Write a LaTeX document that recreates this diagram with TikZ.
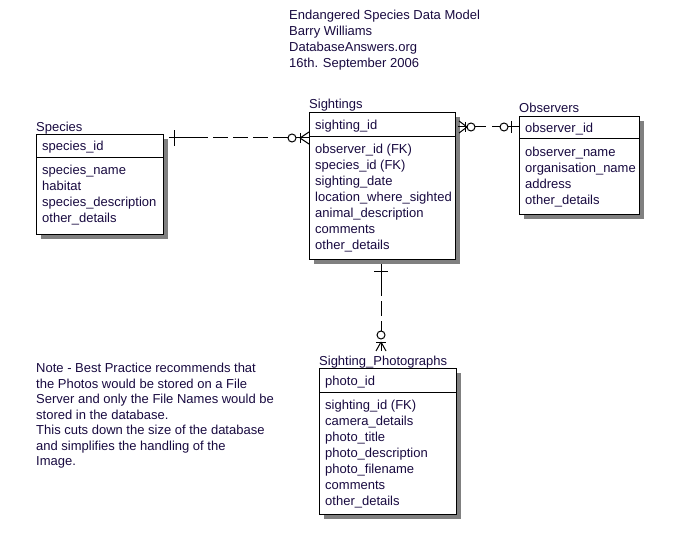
\documentclass[tikz,border=0pt]{standalone}
\usepackage{fontspec}
\setmainfont{Liberation Sans}
\usetikzlibrary{shadows,calc}
\definecolor{txt}{RGB}{24,10,64}
\definecolor{shd}{RGB}{128,128,128}
\tikzset{
  ebox/.style={draw=black, line width=1pt, fill=white, anchor=north west, inner sep=0pt,
    drop shadow={shadow xshift=4.5pt, shadow yshift=-4.5pt, fill=shd, opacity=1}},
  lbl/.style={anchor=base west, inner sep=0pt, text=txt},
  rel/.style={line width=1pt, black},
  reldash/.style={line width=1pt, black, dash pattern=on 15pt off 5pt},
}
\begin{document}
\begin{tikzpicture}[x=1pt, y=-1pt, font=\fontsize{13}{16}\selectfont]
\useasboundingbox (0,0) rectangle (684,545);

% header
\node[lbl] (h1) at (289,19.5) {Endangered Species Data Model};
\node[lbl] (h2) at (289,35.5) {Barry Williams};
\node[lbl] (h3) at (289,51.5) {DatabaseAnswers.org};
\node[lbl] (h4) at (289,67.5) {16th. September 2006};

% Species
\node[ebox, minimum width=127pt, minimum height=100pt] (species) at (36,134) {};
\draw[line width=1pt] (36,158) -- (163,158);
\node[lbl] (speciest) at (36,131.5) {Species};
\node[lbl] at (42,150.5) {species\_id};
\node[lbl] at (42,174.5) {species\_name};
\node[lbl] at (42,190.5) {habitat};
\node[lbl] at (42,206.5) {species\_description};
\node[lbl] at (42,222.5) {other\_details};

% Sightings
\node[ebox, minimum width=146pt, minimum height=147pt] (sightings) at (309,112) {};
\draw[line width=1pt] (309,137) -- (455,137);
\node[lbl] (sightingst) at (309,108.5) {Sightings};
\node[lbl] at (315,129.5) {sighting\_id};
\node[lbl] at (315,153.5) {observer\_id (FK)};
\node[lbl] at (315,169.5) {species\_id (FK)};
\node[lbl] at (315,185.5) {sighting\_date};
\node[lbl] at (315,201.5) {location\_where\_sighted};
\node[lbl] at (315,217.5) {animal\_description};
\node[lbl] at (315,233.5) {comments};
\node[lbl] at (315,249.5) {other\_details};

% Observers
\node[ebox, minimum width=120pt, minimum height=98pt] (observers) at (519,116) {};
\draw[line width=1pt] (519,139) -- (639,139);
\node[lbl] (observerst) at (519,112.5) {Observers};
\node[lbl] at (525,132.5) {observer\_id};
\node[lbl] at (525,156.5) {observer\_name};
\node[lbl] at (525,172.5) {organisation\_name};
\node[lbl] at (525,188.5) {address};
\node[lbl] at (525,204.5) {other\_details};

% Sighting_Photographs
\node[ebox, minimum width=137pt, minimum height=146pt] (photos) at (319,368) {};
\draw[line width=1pt] (319,392) -- (456,392);
\node[lbl] (photost) at (319,365.5) {Sighting\_Photographs};
\node[lbl] at (325,385.5) {photo\_id};
\node[lbl] at (325,409.5) {sighting\_id (FK)};
\node[lbl] at (325,425.5) {camera\_details};
\node[lbl] at (325,441.5) {photo\_title};
\node[lbl] at (325,457.5) {photo\_description};
\node[lbl] at (325,473.5) {photo\_filename};
\node[lbl] at (325,489.5) {comments};
\node[lbl] at (325,505.5) {other\_details};

% Note
\node[lbl] (n1) at (36,372.5) {Note - Best Practice recommends that};
\node[lbl] (n2) at (36,388) {the Photos would be stored on a File};
\node[lbl] (n3) at (36,403.5) {Server and only the File Names would be};
\node[lbl] (n4) at (36,419) {stored in the database.};
\node[lbl] (n5) at (36,434.5) {This cuts down the size of the database};
\node[lbl] (n6) at (36,450) {and simplifies the handling of the};
\node[lbl] (n7) at (36,465.5) {Image.};

% Connector Species - Sightings
\coordinate (c1a) at ([xshift=5pt,yshift=-4pt]species.north east);
\coordinate (c1b) at ([yshift=-26pt]sightings.north west);
\draw[reldash] ([xshift=24pt]c1a) -- ([xshift=-21pt]c1b);
\draw[rel] (c1a) -- ([xshift=24pt]c1a);
\draw[rel] ([xshift=5pt,yshift=-8pt]c1a) -- ([xshift=5pt,yshift=8pt]c1a);
\draw[rel] ([xshift=-13pt]c1b) -- (c1b);
\draw[rel, fill=white] ([xshift=-17pt]c1b) circle (4pt);
\draw[rel] ([xshift=-9pt,yshift=5pt]c1b) -- ([xshift=-9pt,yshift=-5pt]c1b);
\draw[rel] ([xshift=-9pt]c1b) -- ([yshift=6pt]c1b);
\draw[rel] ([xshift=-9pt]c1b) -- ([yshift=-6pt]c1b);

% Connector Sightings - Observers
\coordinate (c2a) at ([yshift=-15pt]sightings.north east);
\coordinate (c2b) at ([yshift=-11pt]observers.north west);
\draw[rel] ([xshift=2pt]c2a) -- ([xshift=30pt]c2a);
\draw[rel] ([xshift=-27pt]c2b) -- (c2b);
\draw[rel] ([xshift=3pt,yshift=6pt]c2a) -- ([xshift=11pt]c2a);
\draw[rel] ([xshift=3pt,yshift=-6pt]c2a) -- ([xshift=11pt]c2a);
\draw[rel] ([xshift=9pt,yshift=5pt]c2a) -- ([xshift=9pt,yshift=-5pt]c2a);
\draw[rel, fill=white] ([xshift=15pt]c2a) circle (4pt);
\draw[rel, fill=white] ([xshift=-15pt]c2b) circle (4pt);
\draw[rel] ([xshift=-8pt,yshift=6pt]c2b) -- ([xshift=-8pt,yshift=-6pt]c2b);

% Connector Sightings - Photographs
\coordinate (c3a) at ([xshift=72pt,yshift=-4pt]sightings.south west);
\coordinate (c3b) at ([xshift=62pt,yshift=17pt]photos.north west);
\draw[reldash] ([yshift=-17pt]c3a) -- ([yshift=20pt]c3b);
\draw[rel] (c3a) -- ([yshift=-17pt]c3a);
\draw[rel] ([xshift=-7pt,yshift=-7pt]c3a) -- ([xshift=7pt,yshift=-7pt]c3a);
\draw[rel] ([yshift=9pt]c3b) -- (c3b);
\draw[rel, fill=white] ([yshift=16pt]c3b) circle (4pt);
\draw[rel] ([xshift=-5pt,yshift=9pt]c3b) -- ([xshift=5pt,yshift=9pt]c3b);
\draw[rel] ([yshift=9pt]c3b) -- ([xshift=-5pt]c3b);
\draw[rel] ([yshift=9pt]c3b) -- ([xshift=5pt]c3b);
\end{tikzpicture}
\end{document}
